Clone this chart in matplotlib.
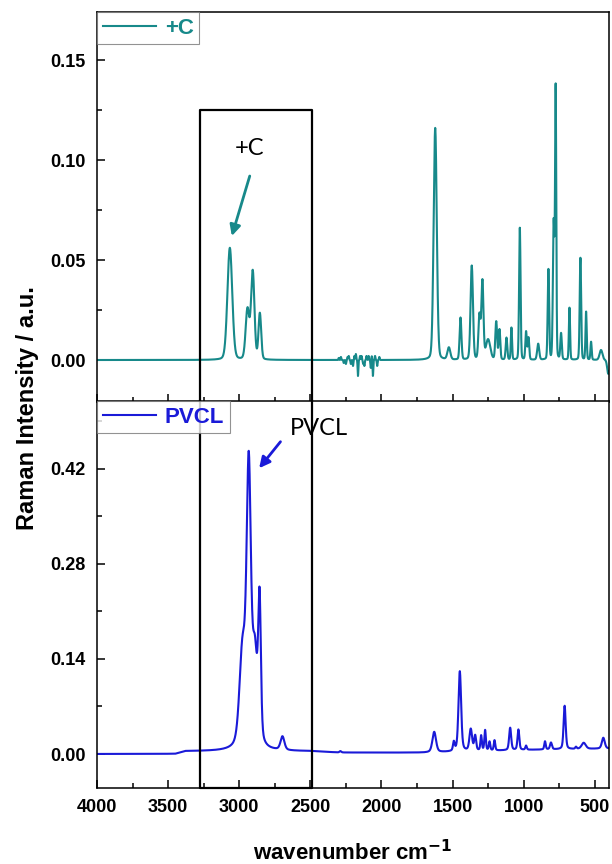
import numpy as np
import matplotlib
matplotlib.use("Agg")
import matplotlib.pyplot as plt
from matplotlib.ticker import MultipleLocator

plt.rcParams['font.family'] = ['Liberation Sans', 'DejaVu Sans']

TEAL = "#17898a"
BLUE = "#1a1ad8"

# peak tables: centre (cm-1), height, fwhm (cm-1)
c_pos = [3066, 2942, 2905, 2855,
         1622, 1526, 1444, 1365, 1311, 1290, 1250, 1193, 1170, 1121, 1086,
         1027, 983, 966, 898, 826, 789, 775, 737, 678, 601, 561, 526, 456, 405]
c_height = [0.056, 0.025, 0.044, 0.023,
            0.116, 0.006, 0.021, 0.047, 0.022, 0.039, 0.010, 0.019, 0.015, 0.011, 0.016,
            0.066, 0.014, 0.011, 0.008, 0.045, 0.068, 0.134, 0.013, 0.026, 0.051, 0.024, 0.009, 0.005, -0.007]
c_fwhm = [40, 30, 28, 22,
          26, 24, 15, 20, 17, 17, 36, 15, 13, 13, 10,
          12, 12, 12, 17, 12, 13, 10, 12, 10, 12, 10, 10, 24, 18]

# noisy stretch of the +C trace around 2000-2300 cm-1
c_noise_pos = [2300, 2285, 2265, 2250, 2238, 2230, 2215, 2200, 2190, 2180, 2165, 2150,
               2140, 2128, 2120, 2105, 2090, 2075, 2068, 2060, 2045, 2030, 2015]
c_noise_height = [0.001, 0.0015, -0.0015, -0.002, 0.0015, 0.002, -0.002, -0.003, 0.002, 0.003,
                  -0.008, 0.002, 0.002, -0.002, -0.003, 0.002, 0.002, -0.004, 0.002, -0.008,
                  0.002, -0.003, 0.0015]

p_pos = [2977, 2933, 2890, 2857, 2696, 2289,
         1629, 1491, 1449, 1372, 1341, 1299, 1271, 1240, 1205, 1095, 1037, 983,
         850, 808, 712, 632, 578, 440]
p_height = [0.14, 0.405, 0.13, 0.205, 0.020, 0.002,
            0.030, 0.013, 0.118, 0.032, 0.022, 0.022, 0.030, 0.013, 0.015, 0.033, 0.030, 0.006,
            0.012, 0.010, 0.064, 0.003, 0.009, 0.016]
p_fwhm = [50, 36, 40, 22, 32, 15,
          30, 14, 22, 22, 16, 12, 12, 12, 12, 17, 15, 12,
          12, 16, 17, 12, 34, 24]

# PVCL baseline
p_base_wn = [4000, 3450, 3380, 2500, 2300, 1700, 1000, 400]
p_base_val = [0.0, 0.0, 0.004, 0.004, 0.002, 0.002, 0.006, 0.008]


def spectrum(wn, pos, height, fwhm, eta=0.3):
    y = np.zeros_like(wn)
    for p, h, w in zip(pos, height, fwhm):
        d = (wn - p) / w
        g = np.exp(-4 * np.log(2) * d ** 2)
        l = 1.0 / (1 + 4 * d ** 2)
        y += h * ((1 - eta) * g + eta * l)
    return y


wn = np.linspace(4000, 400, 3601)
y_c = spectrum(wn, c_pos, c_height, c_fwhm, eta=0.15)
y_c += spectrum(wn, c_noise_pos, c_noise_height, [6] * len(c_noise_pos), eta=0.0)
y_p = spectrum(wn, p_pos, p_height, p_fwhm, eta=0.4) + np.interp(wn, p_base_wn[::-1], p_base_val[::-1])

fig = plt.figure(figsize=(6.12, 8.64), dpi=100)
ax1 = fig.add_axes([0.1585, 0.5347, 0.8366, 0.4514])
ax2 = fig.add_axes([0.1585, 0.0880, 0.8366, 0.4479])

ax1.plot(wn, y_c, color=TEAL, lw=1.5, label="+C")
ax2.plot(wn, y_p, color=BLUE, lw=1.5, label="PVCL")

ax1.set_ylim(-0.021, 0.174)
ax2.set_ylim(-0.050, 0.520)
ax1.yaxis.set_major_locator(MultipleLocator(0.05))
ax1.yaxis.set_minor_locator(MultipleLocator(0.025))
ax2.yaxis.set_major_locator(MultipleLocator(0.14))
ax2.yaxis.set_minor_locator(MultipleLocator(0.07))
ax1.yaxis.set_major_formatter(plt.FormatStrFormatter('%.2f'))
ax2.yaxis.set_major_formatter(plt.FormatStrFormatter('%.2f'))

for ax in (ax1, ax2):
    ax.set_xlim(4000, 400)
    ax.xaxis.set_major_locator(MultipleLocator(500))
    ax.xaxis.set_minor_locator(MultipleLocator(250))
    ax.tick_params(which='both', direction='in', width=1.1, top=False, right=False)
    ax.tick_params(which='major', length=6)
    ax.tick_params(which='minor', length=3.5)
    ax.tick_params(axis='y', pad=8, labelsize=13)
    ax.tick_params(axis='x', pad=8, labelsize=13)
    for s in ax.spines.values():
        s.set_linewidth(1.1)
    for lab in ax.get_xticklabels() + ax.get_yticklabels():
        lab.set_fontweight('bold')

ax1.tick_params(axis='x', labelbottom=False)

# black box marking the C-H stretching region
box_x = [3275, 3275, 2490, 2490]
y1lo, y1hi = ax1.get_ylim()
y2lo, y2hi = ax2.get_ylim()
ax1.plot(box_x, [y1lo, 0.125, 0.125, y1lo], color='black', lw=1.6, clip_on=False)
ax2.plot(box_x, [y2hi, y2lo, y2lo, y2hi], color='black', lw=1.6, clip_on=False)

for ax, col in ((ax1, TEAL), (ax2, BLUE)):
    leg = ax.legend(loc='upper left', borderaxespad=0, fancybox=False, handlelength=2.4,
                    handletextpad=0.4, borderpad=0.25, labelcolor=col,
                    prop={'weight': 'bold', 'size': 16})
    leg.get_frame().set_edgecolor('#777777')
    leg.get_frame().set_linewidth(0.8)

# labels with arrows pointing at the C-H bands
ax1.text(2926, 0.106, "+C", fontsize=17, family='Lato', ha='center', va='center')
ax1.annotate("", xy=(3052, 0.062), xytext=(2926, 0.092),
             arrowprops=dict(arrowstyle='-|>', color=TEAL, lw=2, mutation_scale=16,
                             shrinkA=0, shrinkB=0))
ax2.text(2441, 0.480, "PVCL", fontsize=17, family='Lato', ha='center', va='center')
ax2.annotate("", xy=(2860, 0.421), xytext=(2710, 0.460),
             arrowprops=dict(arrowstyle='-|>', color=BLUE, lw=2, mutation_scale=16,
                             shrinkA=0, shrinkB=0))

ax2.set_xlabel("wavenumber cm$^{\\mathbf{-1}}$", fontsize=16, fontweight='bold', labelpad=17)
fig.text(0.045, 0.528, "Raman Intensity / a.u.", rotation=90, fontsize=17, fontweight='bold',
         ha='center', va='center')

fig.savefig("out.png", dpi=100)
